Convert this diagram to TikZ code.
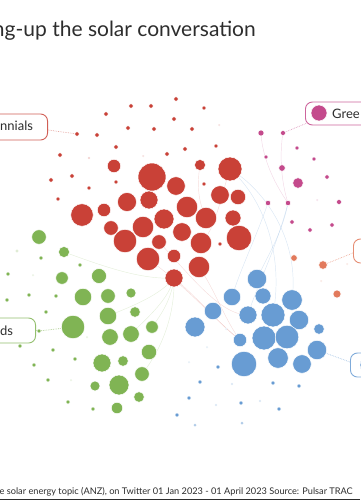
\documentclass[tikz,border=0pt]{standalone}
\usepackage{fontspec}
\setmainfont{Lato}
\begin{document}
\begin{tikzpicture}[x=1pt,y=-1pt,
  bub/.style={circle,inner sep=0pt,draw=white,line width=0.5pt},
  rb/.style={bub,fill=cRed},
  gb/.style={bub,fill=cGreen},
  bb/.style={bub,fill=cBlue},
  mb/.style={bub,fill=cMag},
  ob/.style={bub,fill=cOra},
  labbox/.style={rounded corners=7pt,fill=white,line width=0.9pt},
  leader/.style={densely dotted,line width=0.7pt},
  faint/.style={line width=0.45pt,opacity=0.35},
  labtxt/.style={font=\fontsize{13}{15}\selectfont,text=cText,inner sep=0pt}
]
\definecolor{cRed}{RGB}{201,65,55}
\definecolor{cGreen}{RGB}{128,180,84}
\definecolor{cBlue}{RGB}{104,156,211}
\definecolor{cMag}{RGB}{196,74,140}
\definecolor{cOra}{RGB}{226,122,92}
\definecolor{cText}{RGB}{45,45,45}
\useasboundingbox (0,0) rectangle (360,500);

% ---------- title ----------
\node[font=\fontsize{21}{25}\selectfont,text=cText,inner sep=0pt,anchor=base east] (title) at (256,37) {ng-up the solar conversation};

% ---------- faint edges ----------
\begin{scope}[faint]
\draw[cMag!60] (288,203) .. controls (272,180) and (262,155) .. (261,133);
\draw[cMag!60] (288,203) .. controls (280,178) and (280,150) .. (283,133);
\draw[cBlue!70] (288,203) .. controls (282,235) and (265,260) .. (257,279);
\draw[cBlue!70] (288,203) .. controls (276,250) and (255,290) .. (248,315);
\draw[cBlue!70] (230,169) .. controls (265,190) and (300,240) .. (292,300);
\draw[cBlue!70] (230,169) .. controls (260,195) and (285,250) .. (273,315);
\draw[cBlue!70] (268,203) .. controls (255,240) and (240,270) .. (232,297);
\draw[cRed!50] (174,278) .. controls (200,300) and (220,325) .. (240,340);
\draw[cRed!50] (148,259) .. controls (185,285) and (215,320) .. (240,340);
\draw[cRed!50] (159,242) .. controls (190,275) and (220,315) .. (248,315);
\draw[cRed!50] (199,267) .. controls (215,290) and (225,320) .. (240,340);
\draw[cRed!50] (200,165) .. controls (196,190) and (200,205) .. (206,218);
\draw[cRed!50] (230,169) .. controls (220,200) and (215,230) .. (201,243);
\draw[cGreen!60] (152,327) .. controls (165,310) and (172,295) .. (174,278);
\draw[cGreen!60] (131,334) .. controls (150,315) and (168,300) .. (174,278);
\draw[cGreen!60] (108,316) .. controls (135,305) and (160,295) .. (174,278);
\draw[cGreen!60] (142,374) .. controls (165,345) and (175,310) .. (174,278);
\draw[cGreen!60] (64,252) .. controls (100,265) and (140,280) .. (174,278);
\end{scope}

% ---------- red cluster ----------
\foreach \x/\y/\r [count=\i] in {131/106/2.2,151/106/2.2,176/99/2.2,106/114/2.2,174/119/2.2,128/128/2.2,154/129/2.2,97/135/2.2,116/147/2.2,60/155/2.2,89/158/1.2,143/156/1,167/154/2.2,114/166/6.7,152/177/14,72/176/2.2,51/180/2.2,116/182/2,89/188/2,58/199/2,127/202/9.5,149/200/9,104/210/6.7,82/215/11.3,111/228/7.3,143/227/10.7,164/219/10,125/241/11.7,159/242/7.3,148/259/11.7,176/186/9.3,204/108/2,192/129/2.2,219/125/1,185/149/2.2,216/146/2,200/165/5.5,204/184/2,220/195/9.3,238/197/7.7,187/207/10.7,206/218/10.7,233/218/8,239/238/12.7,201/243/10.7,220/244/2,182/232/9.3,174/256/6.7}
  \node[rb,minimum size=2*\r pt] (red\i) at (\x,\y) {};
\node[rb,minimum size=4.4pt] (redLab) at (77,134) {};
\node[rb,minimum size=24pt] (redHub) at (230,169) {};
\node[rb,minimum size=18pt] (redLow) at (174,278) {};
\node[rb,minimum size=21.4pt] (redC) at (199,267) {};

% ---------- green cluster ----------
\foreach \x/\y/\r [count=\i] in {39/237/7.3,17/251/1.3,41/258/2,64/252/5.5,80/265/2,8/274/2,33/275/1,62/278/6.3,99/276/7.5,7/300/2,29/295/2,56/296/2,83/297/8.7,108/296/7.3,131/293/5,46/312/2,108/316/8.7,135/312/5.3,87/337/1,110/337/8.3,131/334/8.3,20/346/2,53/350/2,149/352/7.7,75/359/2,102/363/9,123/361/5.3,34/365/2,142/374/7.3,48/380/2,71/380/1,95/386/5,119/385/10,139/397/5.3,68/402/2,93/409/2,117/408/5.7}
  \node[gb,minimum size=2*\r pt] (green\i) at (\x,\y) {};
\node[gb,minimum size=23.4pt] (gLab) at (73,327) {};
\node[gb,minimum size=4pt] (gDot) at (39,331) {};
\node[gb,minimum size=12.6pt] (gHub) at (152,327) {};

% ---------- blue cluster ----------
\foreach \x/\y/\r [count=\i] in {232/297/8.7,263/296/8,292/300/10.3,213/311/8.7,248/315/9,299/320/9.7,195/327/10,226/329/1,319/329/5.3,264/338/12,287/337/11.8,207/347/1,244/364/12.7,278/358/10.3,302/364/9.3,189/362/1,218/367/2,200/382/2,232/384/1.2,273/383/2,299/386/2,189/398/2,216/405/1.2,241/403/2,260/401/1.2,279/409/2,195/425/1.5,242/423/1.5,177/415/2}
  \node[bb,minimum size=2*\r pt] (blue\i) at (\x,\y) {};
\node[bb,minimum size=19.4pt] (blueA) at (257,279) {};
\node[bb,minimum size=24pt] (blueHub) at (273,315) {};
\node[bb,minimum size=13.4pt] (blueB) at (240,340) {};
\node[bb,minimum size=19.4pt] (blLab) at (317,350) {};

% ---------- magenta ----------
\foreach \x/\y/\r [count=\i] in {297/148/2,266/157/2,314/159/2,282/168/3.3,327/177/2.2,298/183/5.3,317/200/1,339/202/2.5,268/203/2.7,292/222/2.2,310/230/2.2,332/225/2.2}
  \node[mb,minimum size=2*\r pt] (mag\i) at (\x,\y) {};
\node[mb,minimum size=6pt] (mgA) at (261,133) {};
\node[mb,minimum size=5pt] (mgB) at (283,133) {};
\node[mb,minimum size=5.4pt] (mgHub) at (288,203) {};

% ---------- orange ----------
\foreach \x/\y/\r [count=\i] in {294/258/3.3,347/264/1,321/281/1,337/294/4}
  \node[ob,minimum size=2*\r pt] (ora\i) at (\x,\y) {};
\node[ob,minimum size=8.6pt] (orLab) at (323,265) {};

% ---------- label boxes ----------
\node[labbox,draw=cRed!85,minimum width=70pt,minimum height=26pt,anchor=east] (boxMil) at (48,127) {};
\node[labtxt,anchor=base west] (txtMil) at (0,131) {nnials};
\draw[leader,cRed!45] (boxMil.east) ++(0,3) -- (redLab);
\node[labbox,draw=cGreen!85,minimum width=60pt,minimum height=25pt,anchor=east] (boxGr) at (36,330.5) {};
\node[labtxt,anchor=base west] (txtGr) at (0,335) {ds};
\draw[leader,cGreen!70] (boxGr.east) -- (gDot) -- (gLab);
\node[labbox,draw=cMag!85,minimum width=80pt,minimum height=23pt,anchor=west] (boxMg) at (305,113.5) {};
\node[mb,minimum size=16pt] (mgBox) at (319,113) {};
\node[labtxt,anchor=base west] (txtMg) at (332,118) {Gree};
\draw[leader,cMag!55] (boxMg.south west) ++(1,-2) -- (mgB);
\node[labbox,draw=cOra!85,minimum width=40pt,minimum height=24pt,anchor=west] (boxOr) at (353,251) {};
\draw[leader,cOra!60] (boxOr.west) ++(0,2) -- (orLab);
\node[labbox,draw=cBlue!85,minimum width=40pt,minimum height=24pt,anchor=west] (boxBl) at (350,365) {};
\node[bb,minimum size=18pt] (blBox) at (369,365) {};
\draw[leader,cBlue!60] (boxBl.west) ++(0,-3) -- (blLab);

% ---------- footer ----------
\node[font=\fontsize{9.2}{11}\selectfont,text=cText,inner sep=0pt,anchor=base east] (foot) at (353,494) {e solar energy topic (ANZ), on Twitter 01 Jan 2023 - 01 April 2023 Source: Pulsar TRAC};
\coordinate (ruleL) at (0,499.3);
\coordinate (ruleR) at (360,499.3);
\draw[line width=1.4pt,cText] (ruleL) -- (ruleR);
\end{tikzpicture}
\end{document}
